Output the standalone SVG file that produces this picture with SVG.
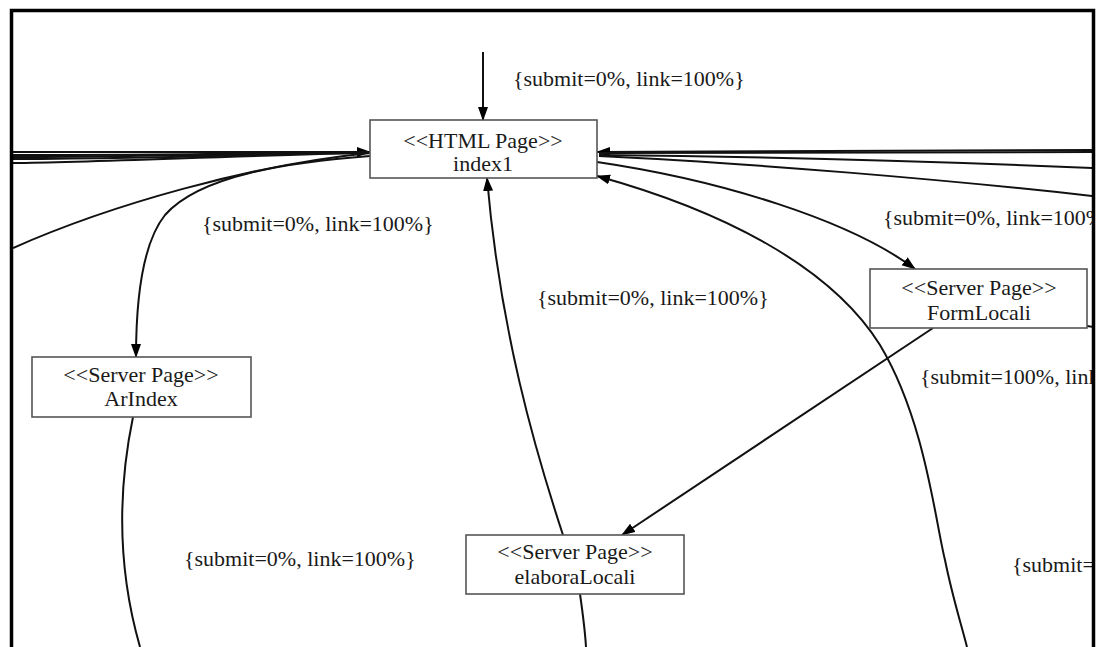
<svg xmlns="http://www.w3.org/2000/svg" width="1098" height="647" viewBox="0 0 1098 647">
  <style>
    .box { fill: #ffffff; stroke: #555555; stroke-width: 1.6; }
    .name { font-family: "Liberation Serif", "Times New Roman", serif; font-size: 22px; fill: #1a1a1a; text-anchor: middle; }
    .lbl { font-family: "Liberation Serif", "Times New Roman", serif; font-size: 22px; fill: #1a1a1a; }
    .edge { fill: none; stroke: #111111; stroke-width: 2; }
    .frame { fill: none; stroke: #000000; stroke-width: 3.5; }
  </style>
  <defs>
    <marker id="arrow" markerUnits="userSpaceOnUse" markerWidth="16" markerHeight="12" refX="13" refY="5" orient="auto-start-reverse">
      <path d="M0,0 L14,5 L0,10 z" fill="#000000"/>
    </marker>
    <clipPath id="inner">
      <rect x="13" y="12" width="1079" height="640"/>
    </clipPath>
  </defs>

  <rect x="0" y="0" width="1098" height="647" fill="#ffffff"/>

  <g clip-path="url(#inner)">
    <!-- connectors -->
    <g id="connectors">
      <!-- entry edge into index1 -->
      <path class="edge" d="M483,52 L483,120" marker-end="url(#arrow)"/>

      <!-- bundle arriving at index1 from the left -->
      <path class="edge" d="M13,152 L370,152" marker-end="url(#arrow)"/>
      <path class="edge" d="M13,155 C150,155 300,153 368,152"/>
      <path class="edge" d="M13,157 C120,157 250,154 368,152"/>
      <path class="edge" d="M13,159 C200,158 300,153 368,152"/>
      <path class="edge" d="M13,163 C100,162 250,155 368,153"/>
      <path class="edge" d="M13,248 C110,205 250,165 370,153"/>

      <!-- index1 to ArIndex -->
      <path class="edge" d="M370,156 C290,162 200,175 165,215 C145,240 136,290 136,357" marker-end="url(#arrow)"/>
      <!-- leaving ArIndex downwards -->
      <path class="edge" d="M133,417 C120,480 115,560 140,647"/>

      <!-- elaboraLocali back to index1 -->
      <path class="edge" d="M563,535 C535,450 500,330 487,178" marker-end="url(#arrow)"/>
      <!-- leaving elaboraLocali downwards -->
      <path class="edge" d="M580,594 C583,615 585,630 586,647"/>

      <!-- bundle on the right side of index1 -->
      <path class="edge" d="M597,152 L1093,150" marker-start="url(#arrow)"/>
      <path class="edge" d="M599,153 C750,153 900,152 1093,152"/>
      <path class="edge" d="M599,155 C800,157 950,162 1093,168"/>
      <path class="edge" d="M599,156 C750,163 950,180 1093,196"/>

      <!-- index1 to FormLocali -->
      <path class="edge" d="M597,162 C720,180 850,220 915,269" marker-end="url(#arrow)"/>

      <!-- long edge coming back into index1 from below right -->
      <path class="edge" d="M597,176 C720,210 830,265 880,345 C925,420 935,520 945,560 C952,595 960,620 967,647" marker-start="url(#arrow)"/>

      <!-- FormLocali to elaboraLocali -->
      <path class="edge" d="M933,328 L622,535" marker-end="url(#arrow)"/>
      <path class="edge" d="M1087,326 L1093,327"/>
    </g>

    <!-- nodes -->
    <g id="node-index1">
      <rect class="box" x="370" y="120" width="227" height="58"/>
      <text class="name" x="483" y="148">&lt;&lt;HTML Page&gt;&gt;</text>
      <text class="name" x="483" y="171">index1</text>
    </g>
    <g id="node-formlocali">
      <rect class="box" x="870" y="269" width="217" height="59"/>
      <text class="name" x="979" y="295">&lt;&lt;Server Page&gt;&gt;</text>
      <text class="name" x="979" y="320">FormLocali</text>
    </g>
    <g id="node-arindex">
      <rect class="box" x="32" y="357" width="219" height="60"/>
      <text class="name" x="141" y="382">&lt;&lt;Server Page&gt;&gt;</text>
      <text class="name" x="141" y="406">ArIndex</text>
    </g>
    <g id="node-elaboralocali">
      <rect class="box" x="466" y="535" width="218" height="59"/>
      <text class="name" x="575" y="559">&lt;&lt;Server Page&gt;&gt;</text>
      <text class="name" x="575" y="584">elaboraLocali</text>
    </g>

    <!-- edge labels -->
    <g id="labels">
      <text class="lbl" x="513" y="86">{submit=0%, link=100%}</text>
      <text class="lbl" x="202" y="231">{submit=0%, link=100%}</text>
      <text class="lbl" x="883" y="225">{submit=0%, link=100%}</text>
      <text class="lbl" x="537" y="305">{submit=0%, link=100%}</text>
      <text class="lbl" x="920" y="384">{submit=100%, link=0%}</text>
      <text class="lbl" x="184" y="566">{submit=0%, link=100%}</text>
      <text class="lbl" x="1012" y="572">{submit=0%, link=100%}</text>
    </g>
  </g>

  <!-- frame -->
  <path class="frame" d="M11.5,647 V10.5 H1093.5 V647"/>
</svg>
